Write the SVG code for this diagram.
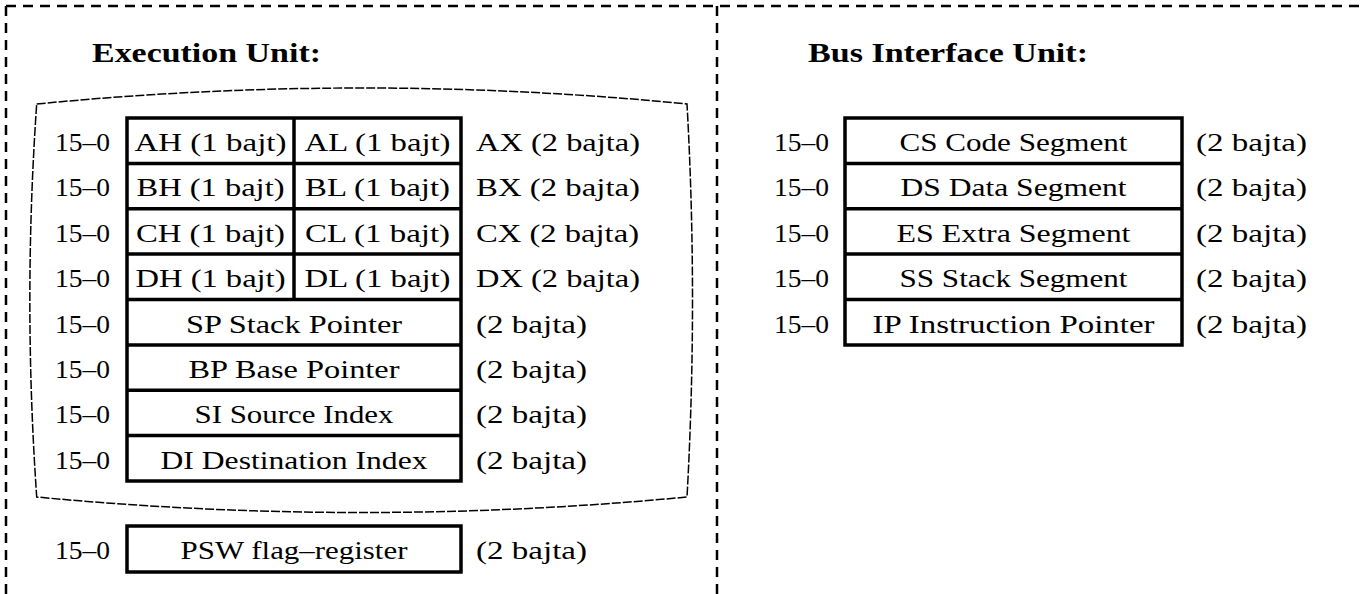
<svg xmlns="http://www.w3.org/2000/svg" width="1366" height="594" viewBox="0 0 1366 594">
<style>
.t{font-family:"Liberation Serif",serif;font-size:25px;fill:#000}
.m{text-anchor:middle}
.b{font-family:"Liberation Serif",serif;font-size:27px;font-weight:bold;fill:#000}
.box{fill:none;stroke:#000;stroke-width:3.5}
.sep{stroke:#000;stroke-width:3.5}
.frame{fill:none;stroke:#000;stroke-width:2.5;stroke-dasharray:10 7}
.region{fill:none;stroke:#000;stroke-width:1.5;stroke-dasharray:9 2}
</style>
<rect x="0" y="0" width="1366" height="594" fill="#fff"/>
<g id="connectors">
<path class="frame" d="M6,6 H1366 M6,6 V594 M717,6 V594"/>
</g>
<g id="eu-title"><text class="b" x="92" y="62" textLength="229" lengthAdjust="spacingAndGlyphs">Execution Unit:</text></g>
<g id="biu-title"><text class="b" x="808" y="62" textLength="280" lengthAdjust="spacingAndGlyphs">Bus Interface Unit:</text></g>
<g id="eu-region"><path class="region" d="M36.7,104 Q362,72 687,104 Q698,300 687,497 Q362,528 36.7,497 Q23,300 36.7,104 Z"/></g>

<g id="eu-registers">
<rect class="box" x="127" y="118" width="334" height="363"/>
<line class="sep" x1="294" y1="118" x2="294" y2="299.5"/>
<line class="sep" x1="127" y1="163.4" x2="461" y2="163.4"/>
<line class="sep" x1="127" y1="208.8" x2="461" y2="208.8"/>
<line class="sep" x1="127" y1="254.1" x2="461" y2="254.1"/>
<line class="sep" x1="127" y1="299.5" x2="461" y2="299.5"/>
<line class="sep" x1="127" y1="344.9" x2="461" y2="344.9"/>
<line class="sep" x1="127" y1="390.3" x2="461" y2="390.3"/>
<line class="sep" x1="127" y1="435.6" x2="461" y2="435.6"/>
</g>

<g id="reg-ax">
<text class="t" x="55" y="151" textLength="55" lengthAdjust="spacingAndGlyphs">15–0</text>
<text class="t m" x="210.5" y="151" textLength="152" lengthAdjust="spacingAndGlyphs">AH (1 bajt)</text>
<text class="t m" x="377.5" y="151" textLength="146" lengthAdjust="spacingAndGlyphs">AL (1 bajt)</text>
<text class="t" x="476" y="151" textLength="164" lengthAdjust="spacingAndGlyphs">AX (2 bajta)</text>
</g>
<g id="reg-bx">
<text class="t" x="55" y="196.4" textLength="55" lengthAdjust="spacingAndGlyphs">15–0</text>
<text class="t m" x="210.5" y="196.4" textLength="148" lengthAdjust="spacingAndGlyphs">BH (1 bajt)</text>
<text class="t m" x="377.5" y="196.4" textLength="145" lengthAdjust="spacingAndGlyphs">BL (1 bajt)</text>
<text class="t" x="476" y="196.4" textLength="164" lengthAdjust="spacingAndGlyphs">BX (2 bajta)</text>
</g>
<g id="reg-cx">
<text class="t" x="55" y="241.8" textLength="55" lengthAdjust="spacingAndGlyphs">15–0</text>
<text class="t m" x="210.5" y="241.8" textLength="149" lengthAdjust="spacingAndGlyphs">CH (1 bajt)</text>
<text class="t m" x="377.5" y="241.8" textLength="145" lengthAdjust="spacingAndGlyphs">CL (1 bajt)</text>
<text class="t" x="476" y="241.8" textLength="163" lengthAdjust="spacingAndGlyphs">CX (2 bajta)</text>
</g>
<g id="reg-dx">
<text class="t" x="55" y="287.1" textLength="55" lengthAdjust="spacingAndGlyphs">15–0</text>
<text class="t m" x="210.5" y="287.1" textLength="150" lengthAdjust="spacingAndGlyphs">DH (1 bajt)</text>
<text class="t m" x="377.5" y="287.1" textLength="146" lengthAdjust="spacingAndGlyphs">DL (1 bajt)</text>
<text class="t" x="476" y="287.1" textLength="164" lengthAdjust="spacingAndGlyphs">DX (2 bajta)</text>
</g>
<g id="reg-sp">
<text class="t" x="55" y="332.5" textLength="55" lengthAdjust="spacingAndGlyphs">15–0</text>
<text class="t m" x="294" y="332.5" textLength="216" lengthAdjust="spacingAndGlyphs">SP Stack Pointer</text>
<text class="t" x="476" y="332.5" textLength="111" lengthAdjust="spacingAndGlyphs">(2 bajta)</text>
</g>
<g id="reg-bp">
<text class="t" x="55" y="377.9" textLength="55" lengthAdjust="spacingAndGlyphs">15–0</text>
<text class="t m" x="294" y="377.9" textLength="211" lengthAdjust="spacingAndGlyphs">BP Base Pointer</text>
<text class="t" x="476" y="377.9" textLength="111" lengthAdjust="spacingAndGlyphs">(2 bajta)</text>
</g>
<g id="reg-si">
<text class="t" x="55" y="423.3" textLength="55" lengthAdjust="spacingAndGlyphs">15–0</text>
<text class="t m" x="294" y="423.3" textLength="199" lengthAdjust="spacingAndGlyphs">SI Source Index</text>
<text class="t" x="476" y="423.3" textLength="111" lengthAdjust="spacingAndGlyphs">(2 bajta)</text>
</g>
<g id="reg-di">
<text class="t" x="55" y="468.6" textLength="55" lengthAdjust="spacingAndGlyphs">15–0</text>
<text class="t m" x="294" y="468.6" textLength="267" lengthAdjust="spacingAndGlyphs">DI Destination Index</text>
<text class="t" x="476" y="468.6" textLength="111" lengthAdjust="spacingAndGlyphs">(2 bajta)</text>
</g>
<g id="reg-psw">
<rect class="box" x="127" y="526" width="334" height="46"/>
<text class="t" x="55" y="559" textLength="55" lengthAdjust="spacingAndGlyphs">15–0</text>
<text class="t m" x="294" y="559" textLength="227" lengthAdjust="spacingAndGlyphs">PSW flag–register</text>
<text class="t" x="476" y="559" textLength="111" lengthAdjust="spacingAndGlyphs">(2 bajta)</text>
</g>

<g id="biu-registers">
<rect class="box" x="845" y="118" width="337" height="227"/>
<line class="sep" x1="845" y1="163.4" x2="1182" y2="163.4"/>
<line class="sep" x1="845" y1="208.8" x2="1182" y2="208.8"/>
<line class="sep" x1="845" y1="254.1" x2="1182" y2="254.1"/>
<line class="sep" x1="845" y1="299.5" x2="1182" y2="299.5"/>
</g>
<g id="reg-cs">
<text class="t" x="774" y="151" textLength="55" lengthAdjust="spacingAndGlyphs">15–0</text>
<text class="t m" x="1013.5" y="151" textLength="228" lengthAdjust="spacingAndGlyphs">CS Code Segment</text>
<text class="t" x="1196" y="151" textLength="111" lengthAdjust="spacingAndGlyphs">(2 bajta)</text>
</g>
<g id="reg-ds">
<text class="t" x="774" y="196.4" textLength="55" lengthAdjust="spacingAndGlyphs">15–0</text>
<text class="t m" x="1013.5" y="196.4" textLength="226" lengthAdjust="spacingAndGlyphs">DS Data Segment</text>
<text class="t" x="1196" y="196.4" textLength="111" lengthAdjust="spacingAndGlyphs">(2 bajta)</text>
</g>
<g id="reg-es">
<text class="t" x="774" y="241.8" textLength="55" lengthAdjust="spacingAndGlyphs">15–0</text>
<text class="t m" x="1013.5" y="241.8" textLength="234" lengthAdjust="spacingAndGlyphs">ES Extra Segment</text>
<text class="t" x="1196" y="241.8" textLength="111" lengthAdjust="spacingAndGlyphs">(2 bajta)</text>
</g>
<g id="reg-ss">
<text class="t" x="774" y="287.1" textLength="55" lengthAdjust="spacingAndGlyphs">15–0</text>
<text class="t m" x="1013.5" y="287.1" textLength="228" lengthAdjust="spacingAndGlyphs">SS Stack Segment</text>
<text class="t" x="1196" y="287.1" textLength="111" lengthAdjust="spacingAndGlyphs">(2 bajta)</text>
</g>
<g id="reg-ip">
<text class="t" x="774" y="332.5" textLength="55" lengthAdjust="spacingAndGlyphs">15–0</text>
<text class="t m" x="1013.5" y="332.5" textLength="282" lengthAdjust="spacingAndGlyphs">IP Instruction Pointer</text>
<text class="t" x="1196" y="332.5" textLength="111" lengthAdjust="spacingAndGlyphs">(2 bajta)</text>
</g>
</svg>
